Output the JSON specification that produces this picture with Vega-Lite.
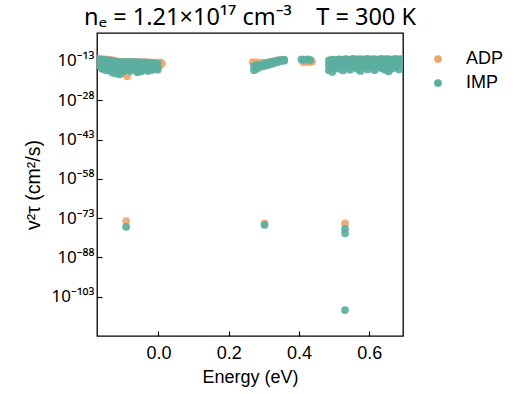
{
  "$schema": "https://vega.github.io/schema/vega-lite/v6.json",
  "autosize": {"type": "none"},
  "width": 306,
  "height": 303,
  "padding": {"left": 97, "top": 33, "right": 112, "bottom": 58},
  "background": "white",
  "config": {
    "font": "Liberation Sans",
    "view": {"stroke": "#000000", "strokeWidth": 1.3},
    "axis": {"domain": false, "grid": false, "tickColor": "#000000", "tickWidth": 1.2, "labelColor": "#000000", "titleColor": "#000000", "labelFont": "Liberation Sans", "titleFont": "Liberation Sans", "titleFontWeight": "normal"}
  },
  "title": {"text": "nₑ = 1.21×10¹⁷ cm⁻³\u00a0\u00a0\u00a0\u00a0T = 300 K", "fontSize": 23.5, "fontWeight": "normal", "font": "Noto Sans", "color": "#000000", "anchor": "middle", "offset": 4},
  "data": {"values": [
    {"e": -0.17, "v": 6.3e-13, "s": "ADP"}, {"e": -0.17, "v": 1.6e-14, "s": "ADP"},
    {"e": -0.16, "v": 5e-13, "s": "ADP"}, {"e": -0.16, "v": 1e-14, "s": "ADP"}, {"e": -0.16, "v": 1.6e-16, "s": "ADP"},
    {"e": -0.15, "v": 4e-13, "s": "ADP"}, {"e": -0.15, "v": 2.5e-15, "s": "ADP"},
    {"e": -0.14, "v": 3.2e-13, "s": "ADP"}, {"e": -0.14, "v": 2e-14, "s": "ADP"}, {"e": -0.14, "v": 5e-17, "s": "ADP"},
    {"e": -0.13, "v": 2e-13, "s": "ADP"}, {"e": -0.13, "v": 1.6e-15, "s": "ADP"},
    {"e": -0.12, "v": 1e-13, "s": "ADP"}, {"e": -0.12, "v": 5e-18, "s": "ADP"},
    {"e": -0.11, "v": 6.3e-14, "s": "ADP"}, {"e": -0.11, "v": 1e-16, "s": "ADP"},
    {"e": -0.1, "v": 6.3e-14, "s": "ADP"}, {"e": -0.1, "v": 2.5e-18, "s": "ADP"},
    {"e": -0.089, "v": 5e-14, "s": "ADP"}, {"e": -0.089, "v": 1.6e-19, "s": "ADP"},
    {"e": -0.08, "v": 5e-14, "s": "ADP"}, {"e": -0.08, "v": 1e-15, "s": "ADP"},
    {"e": -0.07, "v": 5e-14, "s": "ADP"}, {"e": -0.07, "v": 1e-16, "s": "ADP"},
    {"e": -0.06, "v": 4e-14, "s": "ADP"}, {"e": -0.06, "v": 1e-17, "s": "ADP"},
    {"e": -0.05, "v": 4e-14, "s": "ADP"}, {"e": -0.05, "v": 1e-16, "s": "ADP"},
    {"e": -0.04, "v": 4e-14, "s": "ADP"}, {"e": -0.04, "v": 1e-15, "s": "ADP"},
    {"e": -0.03, "v": 3.2e-14, "s": "ADP"}, {"e": -0.03, "v": 3.2e-17, "s": "ADP"},
    {"e": -0.02, "v": 2.5e-14, "s": "ADP"}, {"e": -0.02, "v": 1e-16, "s": "ADP"},
    {"e": -0.01, "v": 2.5e-14, "s": "ADP"}, {"e": -0.01, "v": 1e-15, "s": "ADP"},
    {"e": 0.005, "v": 3.2e-14, "s": "ADP"}, {"e": 0.005, "v": 3.2e-15, "s": "ADP"},
    {"e": 0.01, "v": 1e-14, "s": "ADP"},
    {"e": 0.268, "v": 4e-14, "s": "ADP"}, {"e": 0.278, "v": 3.2e-14, "s": "ADP"}, {"e": 0.285, "v": 2.5e-14, "s": "ADP"},
    {"e": 0.3, "v": 2.5e-14, "s": "ADP"}, {"e": 0.3, "v": 2e-15, "s": "ADP"}, {"e": 0.32, "v": 6.3e-14, "s": "ADP"},
    {"e": 0.34, "v": 1.6e-13, "s": "ADP"}, {"e": 0.355, "v": 2.5e-13, "s": "ADP"},
    {"e": 0.412, "v": 4e-14, "s": "ADP"}, {"e": 0.422, "v": 4e-14, "s": "ADP"}, {"e": 0.432, "v": 5e-14, "s": "ADP"}, {"e": 0.437, "v": 6.3e-14, "s": "ADP"},
    {"e": 0.49, "v": 2e-13, "s": "ADP"}, {"e": 0.49, "v": 1e-15, "s": "ADP"},
    {"e": 0.51, "v": 3.2e-13, "s": "ADP"}, {"e": 0.51, "v": 2e-16, "s": "ADP"},
    {"e": 0.53, "v": 4e-13, "s": "ADP"}, {"e": 0.53, "v": 1e-15, "s": "ADP"},
    {"e": 0.55, "v": 5e-13, "s": "ADP"}, {"e": 0.55, "v": 2e-14, "s": "ADP"},
    {"e": 0.57, "v": 4e-13, "s": "ADP"}, {"e": 0.57, "v": 1e-15, "s": "ADP"},
    {"e": 0.59, "v": 5e-13, "s": "ADP"}, {"e": 0.59, "v": 3.2e-16, "s": "ADP"},
    {"e": 0.61, "v": 4e-13, "s": "ADP"}, {"e": 0.61, "v": 1.6e-14, "s": "ADP"},
    {"e": 0.63, "v": 4e-13, "s": "ADP"}, {"e": 0.63, "v": 5e-16, "s": "ADP"},
    {"e": 0.65, "v": 5e-13, "s": "ADP"}, {"e": 0.65, "v": 1e-14, "s": "ADP"},
    {"e": 0.67, "v": 4e-13, "s": "ADP"}, {"e": 0.67, "v": 1e-15, "s": "ADP"},
    {"e": 0.69, "v": 5e-13, "s": "ADP"}, {"e": 0.69, "v": 1e-14, "s": "ADP"},
    {"e": -0.092, "v": 7.9e-75, "s": "ADP"}, {"e": 0.302, "v": 1e-75, "s": "ADP"}, {"e": 0.531, "v": 1e-75, "s": "ADP"},

    {"e": -0.17, "v": 4e-13, "s": "IMP"}, {"e": -0.17, "v": 1e-14, "s": "IMP"}, {"e": -0.17, "v": 2e-15, "s": "IMP"},
    {"e": -0.16, "v": 3.2e-13, "s": "IMP"}, {"e": -0.16, "v": 3.2e-14, "s": "IMP"}, {"e": -0.16, "v": 3.2e-16, "s": "IMP"}, {"e": -0.16, "v": 1e-16, "s": "IMP"},
    {"e": -0.15, "v": 2.5e-13, "s": "IMP"}, {"e": -0.15, "v": 6.3e-15, "s": "IMP"}, {"e": -0.15, "v": 3.2e-17, "s": "IMP"},
    {"e": -0.14, "v": 1.6e-13, "s": "IMP"}, {"e": -0.14, "v": 2.5e-14, "s": "IMP"}, {"e": -0.14, "v": 1e-15, "s": "IMP"}, {"e": -0.14, "v": 2e-17, "s": "IMP"},
    {"e": -0.13, "v": 1e-13, "s": "IMP"}, {"e": -0.13, "v": 3.2e-15, "s": "IMP"}, {"e": -0.13, "v": 1e-16, "s": "IMP"}, {"e": -0.13, "v": 3.2e-18, "s": "IMP"},
    {"e": -0.12, "v": 6.3e-14, "s": "IMP"}, {"e": -0.12, "v": 1e-15, "s": "IMP"}, {"e": -0.12, "v": 1.6e-18, "s": "IMP"},
    {"e": -0.11, "v": 5e-14, "s": "IMP"}, {"e": -0.11, "v": 6.3e-15, "s": "IMP"}, {"e": -0.11, "v": 1e-16, "s": "IMP"}, {"e": -0.11, "v": 7.9e-19, "s": "IMP"},
    {"e": -0.1, "v": 5e-14, "s": "IMP"}, {"e": -0.1, "v": 6.3e-16, "s": "IMP"}, {"e": -0.1, "v": 1e-17, "s": "IMP"},
    {"e": -0.09, "v": 4e-14, "s": "IMP"}, {"e": -0.09, "v": 4e-15, "s": "IMP"}, {"e": -0.09, "v": 6.3e-17, "s": "IMP"},
    {"e": -0.08, "v": 5e-14, "s": "IMP"}, {"e": -0.08, "v": 1e-15, "s": "IMP"}, {"e": -0.08, "v": 1.6e-17, "s": "IMP"},
    {"e": -0.07, "v": 4e-14, "s": "IMP"}, {"e": -0.07, "v": 1e-14, "s": "IMP"}, {"e": -0.07, "v": 3.2e-16, "s": "IMP"},
    {"e": -0.06, "v": 4e-14, "s": "IMP"}, {"e": -0.06, "v": 1.6e-15, "s": "IMP"}, {"e": -0.06, "v": 3.2e-17, "s": "IMP"}, {"e": -0.06, "v": 5e-18, "s": "IMP"},
    {"e": -0.05, "v": 3.2e-14, "s": "IMP"}, {"e": -0.05, "v": 5e-15, "s": "IMP"}, {"e": -0.05, "v": 1.6e-16, "s": "IMP"}, {"e": -0.05, "v": 1e-17, "s": "IMP"},
    {"e": -0.04, "v": 3.2e-14, "s": "IMP"}, {"e": -0.04, "v": 1e-15, "s": "IMP"}, {"e": -0.04, "v": 5e-17, "s": "IMP"},
    {"e": -0.03, "v": 2.5e-14, "s": "IMP"}, {"e": -0.03, "v": 6.3e-15, "s": "IMP"}, {"e": -0.03, "v": 3.2e-16, "s": "IMP"}, {"e": -0.03, "v": 1.6e-17, "s": "IMP"},
    {"e": -0.02, "v": 2e-14, "s": "IMP"}, {"e": -0.02, "v": 1.6e-15, "s": "IMP"}, {"e": -0.02, "v": 3.2e-17, "s": "IMP"},
    {"e": -0.01, "v": 1.6e-14, "s": "IMP"}, {"e": -0.01, "v": 1e-15, "s": "IMP"}, {"e": -0.01, "v": 1e-16, "s": "IMP"},
    {"e": -0.002, "v": 1e-14, "s": "IMP"}, {"e": -0.002, "v": 3.2e-16, "s": "IMP"}, {"e": -0.002, "v": 5e-17, "s": "IMP"},
    {"e": 0.272, "v": 1e-15, "s": "IMP"}, {"e": 0.272, "v": 3.2e-17, "s": "IMP"},
    {"e": 0.28, "v": 2.5e-15, "s": "IMP"}, {"e": 0.28, "v": 1e-16, "s": "IMP"},
    {"e": 0.29, "v": 3.2e-15, "s": "IMP"}, {"e": 0.29, "v": 5e-16, "s": "IMP"},
    {"e": 0.3, "v": 1e-14, "s": "IMP"}, {"e": 0.3, "v": 1e-15, "s": "IMP"},
    {"e": 0.31, "v": 2.5e-14, "s": "IMP"}, {"e": 0.31, "v": 2.5e-15, "s": "IMP"},
    {"e": 0.32, "v": 4e-14, "s": "IMP"}, {"e": 0.32, "v": 6.3e-15, "s": "IMP"},
    {"e": 0.33, "v": 1e-13, "s": "IMP"}, {"e": 0.33, "v": 1.6e-14, "s": "IMP"},
    {"e": 0.34, "v": 1.6e-13, "s": "IMP"}, {"e": 0.34, "v": 4e-14, "s": "IMP"},
    {"e": 0.35, "v": 2.5e-13, "s": "IMP"}, {"e": 0.35, "v": 1e-13, "s": "IMP"},
    {"e": 0.358, "v": 3.2e-13, "s": "IMP"}, {"e": 0.358, "v": 1.3e-13, "s": "IMP"},
    {"e": 0.407, "v": 4e-13, "s": "IMP"}, {"e": 0.415, "v": 3.2e-13, "s": "IMP"}, {"e": 0.424, "v": 4e-13, "s": "IMP"}, {"e": 0.432, "v": 2.5e-13, "s": "IMP"},
    {"e": 0.485, "v": 1.6e-13, "s": "IMP"}, {"e": 0.485, "v": 3.2e-15, "s": "IMP"}, {"e": 0.485, "v": 3.2e-17, "s": "IMP"},
    {"e": 0.495, "v": 3.2e-13, "s": "IMP"}, {"e": 0.495, "v": 1e-14, "s": "IMP"}, {"e": 0.495, "v": 1.6e-16, "s": "IMP"}, {"e": 0.495, "v": 6.3e-18, "s": "IMP"},
    {"e": 0.505, "v": 2.5e-13, "s": "IMP"}, {"e": 0.505, "v": 1.6e-14, "s": "IMP"}, {"e": 0.505, "v": 3.2e-16, "s": "IMP"},
    {"e": 0.515, "v": 4e-13, "s": "IMP"}, {"e": 0.515, "v": 6.3e-15, "s": "IMP"}, {"e": 0.515, "v": 1e-16, "s": "IMP"},
    {"e": 0.525, "v": 3.2e-13, "s": "IMP"}, {"e": 0.525, "v": 2.5e-14, "s": "IMP"}, {"e": 0.525, "v": 6.3e-16, "s": "IMP"}, {"e": 0.525, "v": 2.5e-17, "s": "IMP"},
    {"e": 0.535, "v": 5e-13, "s": "IMP"}, {"e": 0.535, "v": 1e-14, "s": "IMP"}, {"e": 0.535, "v": 2.5e-16, "s": "IMP"},
    {"e": 0.545, "v": 2.5e-13, "s": "IMP"}, {"e": 0.545, "v": 3.2e-14, "s": "IMP"}, {"e": 0.545, "v": 1e-15, "s": "IMP"}, {"e": 0.545, "v": 5e-17, "s": "IMP"},
    {"e": 0.555, "v": 6.3e-13, "s": "IMP"}, {"e": 0.555, "v": 1.6e-14, "s": "IMP"}, {"e": 0.555, "v": 4e-16, "s": "IMP"},
    {"e": 0.565, "v": 4e-13, "s": "IMP"}, {"e": 0.565, "v": 5e-15, "s": "IMP"}, {"e": 0.565, "v": 1e-16, "s": "IMP"},
    {"e": 0.575, "v": 5e-13, "s": "IMP"}, {"e": 0.575, "v": 3.2e-14, "s": "IMP"}, {"e": 0.575, "v": 7.9e-16, "s": "IMP"}, {"e": 0.575, "v": 1.6e-17, "s": "IMP"},
    {"e": 0.585, "v": 3.2e-13, "s": "IMP"}, {"e": 0.585, "v": 1.3e-14, "s": "IMP"}, {"e": 0.585, "v": 3.2e-16, "s": "IMP"},
    {"e": 0.595, "v": 6.3e-13, "s": "IMP"}, {"e": 0.595, "v": 4e-15, "s": "IMP"}, {"e": 0.595, "v": 6.3e-17, "s": "IMP"},
    {"e": 0.605, "v": 4e-13, "s": "IMP"}, {"e": 0.605, "v": 2.5e-14, "s": "IMP"}, {"e": 0.605, "v": 1e-15, "s": "IMP"},
    {"e": 0.615, "v": 5e-13, "s": "IMP"}, {"e": 0.615, "v": 1.3e-14, "s": "IMP"}, {"e": 0.615, "v": 2e-16, "s": "IMP"}, {"e": 0.615, "v": 3.2e-17, "s": "IMP"},
    {"e": 0.625, "v": 3.2e-13, "s": "IMP"}, {"e": 0.625, "v": 7.9e-15, "s": "IMP"}, {"e": 0.625, "v": 5e-16, "s": "IMP"},
    {"e": 0.635, "v": 6.3e-13, "s": "IMP"}, {"e": 0.635, "v": 3.2e-14, "s": "IMP"}, {"e": 0.635, "v": 1.6e-16, "s": "IMP"},
    {"e": 0.645, "v": 4e-13, "s": "IMP"}, {"e": 0.645, "v": 1e-14, "s": "IMP"}, {"e": 0.645, "v": 5e-17, "s": "IMP"},
    {"e": 0.655, "v": 5e-13, "s": "IMP"}, {"e": 0.655, "v": 2e-14, "s": "IMP"}, {"e": 0.655, "v": 6.3e-16, "s": "IMP"}, {"e": 0.655, "v": 1e-17, "s": "IMP"},
    {"e": 0.665, "v": 3.2e-13, "s": "IMP"}, {"e": 0.665, "v": 6.3e-15, "s": "IMP"}, {"e": 0.665, "v": 1.3e-16, "s": "IMP"},
    {"e": 0.675, "v": 6.3e-13, "s": "IMP"}, {"e": 0.675, "v": 2.5e-14, "s": "IMP"}, {"e": 0.675, "v": 4e-16, "s": "IMP"},
    {"e": 0.685, "v": 4e-13, "s": "IMP"}, {"e": 0.685, "v": 1e-14, "s": "IMP"}, {"e": 0.685, "v": 6.3e-17, "s": "IMP"},
    {"e": 0.695, "v": 5e-13, "s": "IMP"}, {"e": 0.695, "v": 3.2e-15, "s": "IMP"},
    {"e": -0.092, "v": 5e-77, "s": "IMP"}, {"e": 0.302, "v": 2.5e-76, "s": "IMP"},
    {"e": 0.531, "v": 7.9e-78, "s": "IMP"}, {"e": 0.531, "v": 1.6e-79, "s": "IMP"}, {"e": 0.531, "v": 7.9e-109, "s": "IMP"}
  ]},
  "mark": {"type": "point", "filled": true, "shape": "circle", "size": 60, "opacity": 0.92, "strokeWidth": 0, "clip": true},
  "encoding": {
    "x": {"field": "e", "type": "quantitative", "title": "Energy (eV)",
      "scale": {"domain": [-0.175, 0.696], "nice": false, "zero": false},
      "axis": {"values": [0, 0.2, 0.4, 0.6], "format": ".1f", "labelFontSize": 18, "titleFontSize": 18, "tickSize": -5, "labelPadding": 13, "titlePadding": 6, "labelFlush": false}},
    "y": {"field": "v", "type": "quantitative", "title": "v²τ (cm²/s)",
      "scale": {"type": "log", "domain": [1e-118, 4.9e-3], "nice": false},
      "axis": {"values": [1e-13, 1e-28, 1e-43, 1e-58, 1e-73, 1e-88, 1e-103], "labelFont": "Noto Sans", "labelFontSize": 17, "titleFontSize": 19.5, "tickSize": -5, "labelPadding": 8, "titlePadding": 7, "labelFlush": false,
        "labelExpr": "datum.value > 1e-20 ? '10⁻¹³' : datum.value > 1e-35 ? '10⁻²⁸' : datum.value > 1e-50 ? '10⁻⁴³' : datum.value > 1e-65 ? '10⁻⁵⁸' : datum.value > 1e-80 ? '10⁻⁷³' : datum.value > 1e-95 ? '10⁻⁸⁸' : '10⁻¹⁰³'"}},
    "color": {"field": "s", "type": "nominal",
      "scale": {"domain": ["ADP", "IMP"], "range": ["#EFA66C", "#5BAFA0"]},
      "legend": {"title": null, "orient": "none", "legendX": 332, "legendY": 17, "labelFontSize": 18, "labelFont": "Liberation Sans", "labelColor": "#000000", "symbolSize": 60, "symbolType": "circle", "symbolStrokeWidth": 0, "symbolOpacity": 1, "labelOffset": 19, "rowPadding": 6, "padding": 0}}
  }
}
